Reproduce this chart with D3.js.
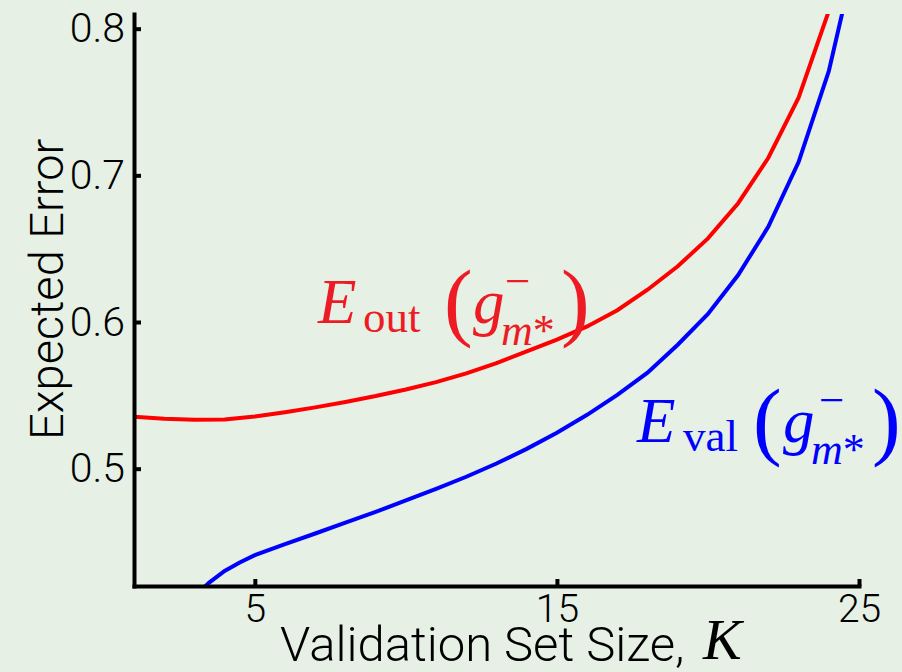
<!DOCTYPE html>
<html>
<head>
<meta charset="utf-8">
<script src="https://cdn.jsdelivr.net/npm/d3@7"></script>
<style>
  html, body { margin: 0; padding: 0; background: #e6f0e5; }
  svg { display: block; }
  .tick text, .axis-title { font-family: Roboto, "Liberation Sans", sans-serif; font-weight: 300; fill: #000; }
  .math { font-family: "Liberation Serif", "DejaVu Serif", serif; }
</style>
</head>
<body>
<svg id="chart" width="902" height="672"></svg>
<script>
// K values and the two curves
const kValues = [1, 2, 3, 4, 5, 6, 7, 8, 9, 10, 11, 12, 13, 14, 15, 16, 17, 18, 19, 20, 21, 22, 23, 24, 25];
const eOut = [0.5354, 0.534, 0.5333, 0.5335, 0.5355, 0.5385, 0.5418, 0.5455, 0.5495, 0.554, 0.559, 0.565,
  0.572, 0.580, 0.588, 0.597, 0.608, 0.622, 0.638, 0.657, 0.681, 0.712, 0.753, 0.812, 0.89];
const eValK = [3, 3.5, 4, 4.5, 5, 6, 7, 8, 9, 10, 11, 12, 13, 14, 15, 16, 17, 18, 19, 20, 21, 22, 23, 24, 25];
const eVal = [0.413, 0.4225, 0.4303, 0.436, 0.441, 0.4485, 0.4558, 0.4632, 0.4705, 0.4783, 0.4862, 0.4945,
  0.5035, 0.5135, 0.5245, 0.5367, 0.5503, 0.5655, 0.5845, 0.6055, 0.632, 0.665, 0.709, 0.771, 0.86];

const xTicks = [5, 15, 25];
const yTicks = [0.5, 0.6, 0.7, 0.8];

const width = 902, height = 672;
const margin = { top: 14, right: 43, bottom: 86, left: 134 };

const svg = d3.select("#chart");

const x = d3.scaleLinear().domain([1, 25]).range([margin.left, width - margin.right]);
const y = d3.scaleLinear().domain([0.42, 0.81]).range([height - margin.bottom, margin.top]);

svg.append("defs").append("clipPath").attr("id", "plot")
  .append("rect")
  .attr("x", margin.left).attr("y", margin.top)
  .attr("width", width - margin.left - margin.right)
  .attr("height", height - margin.top - margin.bottom);

const line = d3.line().x(d => x(d[0])).y(d => y(d[1]));

svg.append("path")
  .datum(d3.zip(kValues, eOut))
  .attr("clip-path", "url(#plot)")
  .attr("fill", "none").attr("stroke", "#ff0000").attr("stroke-width", 4)
  .attr("d", line);

svg.append("path")
  .datum(d3.zip(eValK, eVal))
  .attr("clip-path", "url(#plot)")
  .attr("fill", "none").attr("stroke", "#0000ff").attr("stroke-width", 4)
  .attr("d", line);

// axes
const yAxis = svg.append("g")
  .attr("transform", `translate(${margin.left},0)`)
  .call(d3.axisLeft(y).tickValues(yTicks).tickFormat(d3.format(".1f"))
    .tickSizeInner(-7).tickSizeOuter(0).tickPadding(9));

const xAxis = svg.append("g")
  .attr("transform", `translate(0,${height - margin.bottom})`)
  .call(d3.axisBottom(x).tickValues(xTicks).tickFormat(d3.format("d"))
    .tickSizeInner(-7).tickSizeOuter(0).tickPadding(8));

[yAxis, xAxis].forEach(a => {
  a.select(".domain").attr("stroke", "#000").attr("stroke-width", 4).attr("stroke-linecap", "square");
  a.selectAll(".tick line").attr("stroke", "#000").attr("stroke-width", 4);
  a.selectAll(".tick text").attr("font-size", 41);
});
xAxis.selectAll(".tick text").attr("font-size", 39);

// axis titles
svg.append("text")
  .attr("class", "axis-title")
  .attr("transform", "translate(63,440) rotate(-90)")
  .attr("font-size", 47)
  .text("Expected Error");

svg.append("text")
  .attr("class", "axis-title")
  .attr("x", 280).attr("y", 661)
  .attr("font-size", 49)
  .text("Validation Set Size,");
svg.append("text")
  .attr("class", "math")
  .attr("x", 703).attr("y", 659)
  .attr("font-style", "italic").attr("font-size", 58)
  .text("K");

// curve labels
const labels = [
  { sub: "out", color: "#ed1c24", x0: 318, y0: 323, subX: 45, parX: 126, gX: 155, barX: 187, msX: 183, closeX: 243 },
  { sub: "val", color: "#0000ff", x0: 637, y0: 442, subX: 46, parX: 116, gX: 146, barX: 182, msX: 174, closeX: 235 }
];

labels.forEach(l => {
  const g = svg.append("g").attr("class", "math")
    .attr("transform", `translate(${l.x0},${l.y0})`)
    .attr("fill", l.color);
  g.append("text").attr("font-style", "italic").attr("font-size", 63).text("E");
  g.append("text").attr("x", l.subX).attr("y", 9).attr("font-size", 45).text(l.sub);
  g.append("text").attr("x", l.parX).attr("y", 7).attr("font-size", 86).text("(");
  g.append("text").attr("x", l.gX).attr("font-style", "italic").attr("font-size", 63).text("g");
  g.append("text").attr("x", l.barX).attr("y", -27).attr("font-size", 45).text("\u2212");
  const ms = g.append("text").attr("x", l.msX).attr("y", 22).attr("font-size", 44);
  ms.append("tspan").attr("font-style", "italic").text("m");
  ms.append("tspan").text("*");
  g.append("text").attr("x", l.closeX).attr("y", 7).attr("font-size", 86).text(")");
});
</script>
</body>
</html>
